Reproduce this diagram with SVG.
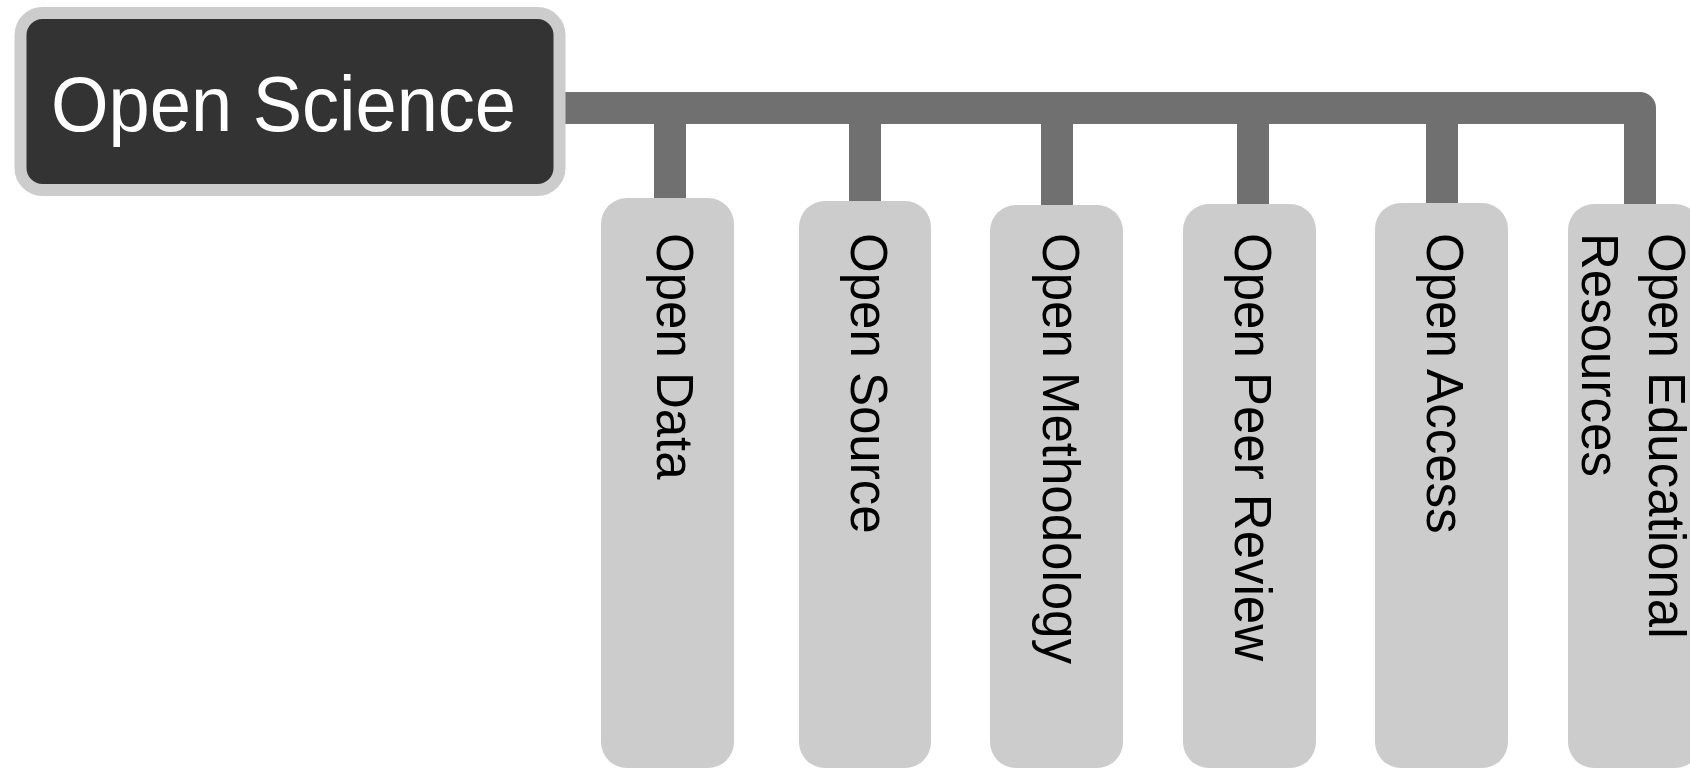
<svg xmlns="http://www.w3.org/2000/svg" width="1690" height="769" viewBox="0 0 1690 769">
<style>
.conn{fill:none;stroke:#707070;stroke-width:32;stroke-linejoin:round}
.child{fill:#cccccc}
.ct{font-family:"Liberation Sans",Arial,sans-serif;font-size:51px;fill:#000}
.rt{font-family:"Liberation Sans",Arial,sans-serif;font-size:78px;fill:#fff}
</style>
<rect width="1690" height="769" fill="#fff"/>
<g id="connectors">
<path class="conn" d="M555 108 H1640 V206"/>
<path class="conn" d="M670 108 V200"/>
<path class="conn" d="M865 108 V203"/>
<path class="conn" d="M1057 108 V207"/>
<path class="conn" d="M1253 108 V206"/>
<path class="conn" d="M1442 108 V205"/>
</g>
<g id="root">
<rect x="20.5" y="13" width="539" height="177" rx="22" fill="#333333" stroke="#cccccc" stroke-width="12"/>
<text class="rt" x="51" y="131" textLength="465" lengthAdjust="spacingAndGlyphs">Open Science</text>
</g>
<g id="open-data">
<rect class="child" x="601" y="198" width="133" height="570" rx="26"/>
<text class="ct" transform="translate(657,233) rotate(90)">Open Data</text>
</g>
<g id="open-source">
<rect class="child" x="799" y="201" width="132" height="567" rx="26"/>
<text class="ct" transform="translate(851,233) rotate(90)">Open Source</text>
</g>
<g id="open-methodology">
<rect class="child" x="990" y="205" width="133" height="563" rx="26"/>
<text class="ct" transform="translate(1043,233) rotate(90)">Open Methodology</text>
</g>
<g id="open-peer-review">
<rect class="child" x="1183" y="204" width="133" height="564" rx="26"/>
<text class="ct" transform="translate(1235,233) rotate(90)">Open Peer Review</text>
</g>
<g id="open-access">
<rect class="child" x="1375" y="203" width="133" height="565" rx="26"/>
<text class="ct" transform="translate(1427,233) rotate(90)">Open Access</text>
</g>
<g id="open-educational-resources">
<rect class="child" x="1568" y="204" width="133" height="564" rx="26"/>
<text class="ct" transform="translate(1649,233) rotate(90)">Open Educational</text>
<text class="ct" transform="translate(1582,233) rotate(90)">Resources</text>
</g>
</svg>
